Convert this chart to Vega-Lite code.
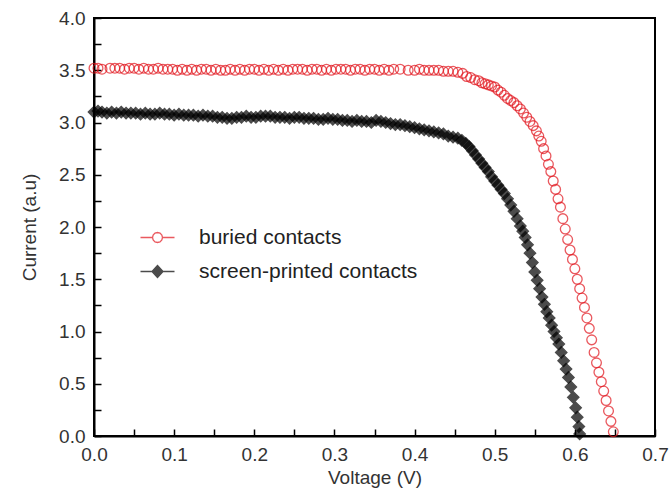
{
  "$schema": "https://vega.github.io/schema/vega-lite/v6.json",
  "width": 561,
  "height": 418,
  "autosize": "none",
  "padding": {"left": 94, "top": 18, "right": 17, "bottom": 56},
  "background": "white",
  "config": {
    "view": {"stroke": "black", "strokeWidth": 2},
    "font": "Liberation Sans"
  },
  "data": {"values": [
    {"s":"buried contacts","v":0.000,"i":3.52},{"s":"buried contacts","v":0.005,"i":3.52},{"s":"buried contacts","v":0.010,"i":3.51},{"s":"buried contacts","v":0.020,"i":3.52},{"s":"buried contacts","v":0.026,"i":3.52},{"s":"buried contacts","v":0.032,"i":3.52},{"s":"buried contacts","v":0.038,"i":3.51},{"s":"buried contacts","v":0.044,"i":3.52},{"s":"buried contacts","v":0.050,"i":3.52},{"s":"buried contacts","v":0.056,"i":3.51},{"s":"buried contacts","v":0.062,"i":3.52},{"s":"buried contacts","v":0.068,"i":3.51},{"s":"buried contacts","v":0.074,"i":3.51},{"s":"buried contacts","v":0.080,"i":3.52},{"s":"buried contacts","v":0.086,"i":3.51},{"s":"buried contacts","v":0.092,"i":3.51},{"s":"buried contacts","v":0.098,"i":3.51},{"s":"buried contacts","v":0.104,"i":3.50},{"s":"buried contacts","v":0.110,"i":3.51},{"s":"buried contacts","v":0.116,"i":3.50},{"s":"buried contacts","v":0.122,"i":3.51},{"s":"buried contacts","v":0.128,"i":3.50},{"s":"buried contacts","v":0.134,"i":3.51},{"s":"buried contacts","v":0.140,"i":3.51},{"s":"buried contacts","v":0.146,"i":3.50},{"s":"buried contacts","v":0.152,"i":3.51},{"s":"buried contacts","v":0.158,"i":3.50},{"s":"buried contacts","v":0.164,"i":3.50},{"s":"buried contacts","v":0.170,"i":3.51},{"s":"buried contacts","v":0.176,"i":3.50},{"s":"buried contacts","v":0.182,"i":3.51},{"s":"buried contacts","v":0.188,"i":3.50},{"s":"buried contacts","v":0.194,"i":3.51},{"s":"buried contacts","v":0.200,"i":3.51},{"s":"buried contacts","v":0.206,"i":3.50},{"s":"buried contacts","v":0.212,"i":3.51},{"s":"buried contacts","v":0.218,"i":3.50},{"s":"buried contacts","v":0.224,"i":3.51},{"s":"buried contacts","v":0.230,"i":3.50},{"s":"buried contacts","v":0.236,"i":3.51},{"s":"buried contacts","v":0.242,"i":3.50},{"s":"buried contacts","v":0.248,"i":3.51},{"s":"buried contacts","v":0.254,"i":3.51},{"s":"buried contacts","v":0.260,"i":3.51},{"s":"buried contacts","v":0.266,"i":3.50},{"s":"buried contacts","v":0.272,"i":3.51},{"s":"buried contacts","v":0.278,"i":3.51},{"s":"buried contacts","v":0.284,"i":3.50},{"s":"buried contacts","v":0.290,"i":3.51},{"s":"buried contacts","v":0.296,"i":3.50},{"s":"buried contacts","v":0.302,"i":3.51},{"s":"buried contacts","v":0.308,"i":3.51},{"s":"buried contacts","v":0.314,"i":3.51},{"s":"buried contacts","v":0.320,"i":3.50},{"s":"buried contacts","v":0.326,"i":3.51},{"s":"buried contacts","v":0.332,"i":3.51},{"s":"buried contacts","v":0.338,"i":3.50},{"s":"buried contacts","v":0.344,"i":3.51},{"s":"buried contacts","v":0.350,"i":3.51},{"s":"buried contacts","v":0.356,"i":3.50},{"s":"buried contacts","v":0.362,"i":3.51},{"s":"buried contacts","v":0.368,"i":3.50},{"s":"buried contacts","v":0.374,"i":3.51},{"s":"buried contacts","v":0.382,"i":3.51},{"s":"buried contacts","v":0.392,"i":3.50},{"s":"buried contacts","v":0.400,"i":3.50},{"s":"buried contacts","v":0.406,"i":3.51},{"s":"buried contacts","v":0.412,"i":3.50},{"s":"buried contacts","v":0.418,"i":3.50},{"s":"buried contacts","v":0.424,"i":3.50},{"s":"buried contacts","v":0.430,"i":3.50},{"s":"buried contacts","v":0.436,"i":3.49},{"s":"buried contacts","v":0.442,"i":3.49},{"s":"buried contacts","v":0.448,"i":3.49},{"s":"buried contacts","v":0.454,"i":3.48},{"s":"buried contacts","v":0.460,"i":3.47},{"s":"buried contacts","v":0.465,"i":3.44},{"s":"buried contacts","v":0.470,"i":3.43},{"s":"buried contacts","v":0.475,"i":3.41},{"s":"buried contacts","v":0.480,"i":3.40},{"s":"buried contacts","v":0.484,"i":3.38},{"s":"buried contacts","v":0.488,"i":3.37},{"s":"buried contacts","v":0.492,"i":3.36},{"s":"buried contacts","v":0.496,"i":3.35},{"s":"buried contacts","v":0.500,"i":3.34},{"s":"buried contacts","v":0.504,"i":3.31},{"s":"buried contacts","v":0.508,"i":3.29},{"s":"buried contacts","v":0.512,"i":3.26},{"s":"buried contacts","v":0.516,"i":3.23},{"s":"buried contacts","v":0.520,"i":3.21},{"s":"buried contacts","v":0.524,"i":3.19},{"s":"buried contacts","v":0.528,"i":3.16},{"s":"buried contacts","v":0.532,"i":3.13},{"s":"buried contacts","v":0.536,"i":3.09},{"s":"buried contacts","v":0.540,"i":3.05},{"s":"buried contacts","v":0.544,"i":3.01},{"s":"buried contacts","v":0.548,"i":2.97},{"s":"buried contacts","v":0.552,"i":2.92},{"s":"buried contacts","v":0.555,"i":2.87},{"s":"buried contacts","v":0.558,"i":2.82},{"s":"buried contacts","v":0.561,"i":2.75},{"s":"buried contacts","v":0.564,"i":2.68},{"s":"buried contacts","v":0.567,"i":2.60},{"s":"buried contacts","v":0.570,"i":2.53},{"s":"buried contacts","v":0.573,"i":2.44},{"s":"buried contacts","v":0.576,"i":2.36},{"s":"buried contacts","v":0.579,"i":2.27},{"s":"buried contacts","v":0.582,"i":2.19},{"s":"buried contacts","v":0.585,"i":2.08},{"s":"buried contacts","v":0.588,"i":1.98},{"s":"buried contacts","v":0.591,"i":1.88},{"s":"buried contacts","v":0.594,"i":1.78},{"s":"buried contacts","v":0.597,"i":1.69},{"s":"buried contacts","v":0.600,"i":1.60},{"s":"buried contacts","v":0.603,"i":1.50},{"s":"buried contacts","v":0.606,"i":1.41},{"s":"buried contacts","v":0.609,"i":1.32},{"s":"buried contacts","v":0.612,"i":1.23},{"s":"buried contacts","v":0.615,"i":1.13},{"s":"buried contacts","v":0.618,"i":1.03},{"s":"buried contacts","v":0.621,"i":0.92},{"s":"buried contacts","v":0.624,"i":0.80},{"s":"buried contacts","v":0.627,"i":0.70},{"s":"buried contacts","v":0.630,"i":0.61},{"s":"buried contacts","v":0.633,"i":0.52},{"s":"buried contacts","v":0.636,"i":0.43},{"s":"buried contacts","v":0.639,"i":0.34},{"s":"buried contacts","v":0.642,"i":0.24},{"s":"buried contacts","v":0.645,"i":0.14},{"s":"buried contacts","v":0.648,"i":0.04},
    {"s":"screen-printed contacts","v":0.000,"i":3.10},{"s":"screen-printed contacts","v":0.005,"i":3.11},{"s":"screen-printed contacts","v":0.010,"i":3.10},{"s":"screen-printed contacts","v":0.016,"i":3.09},{"s":"screen-printed contacts","v":0.022,"i":3.10},{"s":"screen-printed contacts","v":0.028,"i":3.09},{"s":"screen-printed contacts","v":0.034,"i":3.10},{"s":"screen-printed contacts","v":0.040,"i":3.09},{"s":"screen-printed contacts","v":0.046,"i":3.09},{"s":"screen-printed contacts","v":0.052,"i":3.09},{"s":"screen-printed contacts","v":0.058,"i":3.08},{"s":"screen-printed contacts","v":0.064,"i":3.09},{"s":"screen-printed contacts","v":0.070,"i":3.08},{"s":"screen-printed contacts","v":0.076,"i":3.08},{"s":"screen-printed contacts","v":0.082,"i":3.09},{"s":"screen-printed contacts","v":0.088,"i":3.08},{"s":"screen-printed contacts","v":0.094,"i":3.08},{"s":"screen-printed contacts","v":0.100,"i":3.07},{"s":"screen-printed contacts","v":0.106,"i":3.08},{"s":"screen-printed contacts","v":0.112,"i":3.07},{"s":"screen-printed contacts","v":0.118,"i":3.07},{"s":"screen-printed contacts","v":0.124,"i":3.07},{"s":"screen-printed contacts","v":0.130,"i":3.06},{"s":"screen-printed contacts","v":0.136,"i":3.07},{"s":"screen-printed contacts","v":0.142,"i":3.06},{"s":"screen-printed contacts","v":0.148,"i":3.06},{"s":"screen-printed contacts","v":0.154,"i":3.05},{"s":"screen-printed contacts","v":0.160,"i":3.05},{"s":"screen-printed contacts","v":0.166,"i":3.04},{"s":"screen-printed contacts","v":0.172,"i":3.04},{"s":"screen-printed contacts","v":0.178,"i":3.05},{"s":"screen-printed contacts","v":0.184,"i":3.05},{"s":"screen-printed contacts","v":0.190,"i":3.06},{"s":"screen-printed contacts","v":0.196,"i":3.05},{"s":"screen-printed contacts","v":0.202,"i":3.05},{"s":"screen-printed contacts","v":0.208,"i":3.06},{"s":"screen-printed contacts","v":0.214,"i":3.06},{"s":"screen-printed contacts","v":0.220,"i":3.06},{"s":"screen-printed contacts","v":0.226,"i":3.05},{"s":"screen-printed contacts","v":0.232,"i":3.05},{"s":"screen-printed contacts","v":0.238,"i":3.05},{"s":"screen-printed contacts","v":0.244,"i":3.04},{"s":"screen-printed contacts","v":0.250,"i":3.05},{"s":"screen-printed contacts","v":0.256,"i":3.05},{"s":"screen-printed contacts","v":0.262,"i":3.04},{"s":"screen-printed contacts","v":0.268,"i":3.04},{"s":"screen-printed contacts","v":0.274,"i":3.04},{"s":"screen-printed contacts","v":0.280,"i":3.03},{"s":"screen-printed contacts","v":0.286,"i":3.03},{"s":"screen-printed contacts","v":0.292,"i":3.04},{"s":"screen-printed contacts","v":0.298,"i":3.03},{"s":"screen-printed contacts","v":0.304,"i":3.03},{"s":"screen-printed contacts","v":0.310,"i":3.02},{"s":"screen-printed contacts","v":0.316,"i":3.02},{"s":"screen-printed contacts","v":0.322,"i":3.01},{"s":"screen-printed contacts","v":0.328,"i":3.02},{"s":"screen-printed contacts","v":0.334,"i":3.01},{"s":"screen-printed contacts","v":0.340,"i":3.01},{"s":"screen-printed contacts","v":0.346,"i":3.00},{"s":"screen-printed contacts","v":0.352,"i":3.02},{"s":"screen-printed contacts","v":0.358,"i":3.01},{"s":"screen-printed contacts","v":0.364,"i":3.00},{"s":"screen-printed contacts","v":0.370,"i":2.99},{"s":"screen-printed contacts","v":0.376,"i":2.98},{"s":"screen-printed contacts","v":0.382,"i":2.98},{"s":"screen-printed contacts","v":0.388,"i":2.97},{"s":"screen-printed contacts","v":0.394,"i":2.96},{"s":"screen-printed contacts","v":0.400,"i":2.95},{"s":"screen-printed contacts","v":0.406,"i":2.94},{"s":"screen-printed contacts","v":0.412,"i":2.93},{"s":"screen-printed contacts","v":0.418,"i":2.92},{"s":"screen-printed contacts","v":0.424,"i":2.91},{"s":"screen-printed contacts","v":0.430,"i":2.90},{"s":"screen-printed contacts","v":0.436,"i":2.89},{"s":"screen-printed contacts","v":0.442,"i":2.87},{"s":"screen-printed contacts","v":0.448,"i":2.86},{"s":"screen-printed contacts","v":0.454,"i":2.85},{"s":"screen-printed contacts","v":0.459,"i":2.83},{"s":"screen-printed contacts","v":0.464,"i":2.80},{"s":"screen-printed contacts","v":0.468,"i":2.77},{"s":"screen-printed contacts","v":0.472,"i":2.73},{"s":"screen-printed contacts","v":0.476,"i":2.69},{"s":"screen-printed contacts","v":0.480,"i":2.65},{"s":"screen-printed contacts","v":0.484,"i":2.61},{"s":"screen-printed contacts","v":0.488,"i":2.57},{"s":"screen-printed contacts","v":0.492,"i":2.53},{"s":"screen-printed contacts","v":0.496,"i":2.48},{"s":"screen-printed contacts","v":0.500,"i":2.44},{"s":"screen-printed contacts","v":0.504,"i":2.40},{"s":"screen-printed contacts","v":0.508,"i":2.36},{"s":"screen-printed contacts","v":0.512,"i":2.32},{"s":"screen-printed contacts","v":0.516,"i":2.27},{"s":"screen-printed contacts","v":0.520,"i":2.21},{"s":"screen-printed contacts","v":0.524,"i":2.15},{"s":"screen-printed contacts","v":0.528,"i":2.08},{"s":"screen-printed contacts","v":0.532,"i":2.01},{"s":"screen-printed contacts","v":0.535,"i":1.96},{"s":"screen-printed contacts","v":0.538,"i":1.90},{"s":"screen-printed contacts","v":0.541,"i":1.83},{"s":"screen-printed contacts","v":0.544,"i":1.75},{"s":"screen-printed contacts","v":0.547,"i":1.66},{"s":"screen-printed contacts","v":0.550,"i":1.57},{"s":"screen-printed contacts","v":0.553,"i":1.49},{"s":"screen-printed contacts","v":0.556,"i":1.41},{"s":"screen-printed contacts","v":0.559,"i":1.33},{"s":"screen-printed contacts","v":0.562,"i":1.26},{"s":"screen-printed contacts","v":0.565,"i":1.19},{"s":"screen-printed contacts","v":0.568,"i":1.13},{"s":"screen-printed contacts","v":0.571,"i":1.06},{"s":"screen-printed contacts","v":0.574,"i":1.00},{"s":"screen-printed contacts","v":0.577,"i":0.94},{"s":"screen-printed contacts","v":0.580,"i":0.88},{"s":"screen-printed contacts","v":0.583,"i":0.80},{"s":"screen-printed contacts","v":0.586,"i":0.72},{"s":"screen-printed contacts","v":0.589,"i":0.64},{"s":"screen-printed contacts","v":0.592,"i":0.56},{"s":"screen-printed contacts","v":0.595,"i":0.47},{"s":"screen-printed contacts","v":0.598,"i":0.37},{"s":"screen-printed contacts","v":0.601,"i":0.27},{"s":"screen-printed contacts","v":0.603,"i":0.18},{"s":"screen-printed contacts","v":0.605,"i":0.09},{"s":"screen-printed contacts","v":0.606,"i":0.02}
  ]},
  "encoding": {
    "x": {
      "field": "v", "type": "quantitative",
      "scale": {"domain": [0, 0.7], "nice": false, "zero": false},
      "axis": {
        "title": "Voltage (V)",
        "values": [0,0.05,0.1,0.15,0.2,0.25,0.3,0.35,0.4,0.45,0.5,0.55,0.6,0.65,0.7],
        "format": ".1f",
        "labelExpr": "round(datum.value*20)%2==1 ? '' : datum.label",
        "tickSize": -7,
        "tickColor": "black", "tickWidth": 1.5,
        "domainColor": "black", "domainWidth": 2,
        "grid": false, "labelFlush": false, "labelOverlap": false,
        "labelFont": "Liberation Sans", "labelFontSize": 19, "labelColor": "#333",
        "labelPadding": 16,
        "titleFont": "Liberation Sans", "titleFontSize": 19, "titleFontWeight": "normal", "titleColor": "#333",
        "titlePadding": 4
      }
    },
    "y": {
      "field": "i", "type": "quantitative",
      "scale": {"domain": [0, 4], "nice": false, "zero": false},
      "axis": {
        "title": "Current (a.u)",
        "values": [0,0.25,0.5,0.75,1,1.25,1.5,1.75,2,2.25,2.5,2.75,3,3.25,3.5,3.75,4],
        "format": ".1f",
        "labelExpr": "round(datum.value*4)%2==1 ? '' : datum.label",
        "tickSize": -7,
        "tickColor": "black", "tickWidth": 1.5,
        "domainColor": "black", "domainWidth": 2,
        "grid": false, "labelFlush": false, "labelOverlap": false,
        "labelFont": "Liberation Sans", "labelFontSize": 19, "labelColor": "#333",
        "labelPadding": 16,
        "titleFont": "Liberation Sans", "titleFontSize": 19, "titleFontWeight": "normal", "titleColor": "#333",
        "titlePadding": 19
      }
    },
    "stroke": {
      "field": "s", "type": "nominal",
      "scale": {"domain": ["buried contacts", "screen-printed contacts"], "range": ["#e2141c", "black"]},
      "legend": {
        "title": null, "orient": "none", "legendX": 53, "legendY": 209,
        "padding": 0, "symbolSize": 100, "symbolStrokeWidth": 1.3,
        "labelOffset": 31, "rowPadding": 12,
        "labelFont": "Liberation Sans", "labelFontSize": 21, "labelColor": "#222",
        "labelLimit": 400
      }
    },
    "fill": {
      "field": "s", "type": "nominal",
      "scale": {"domain": ["buried contacts", "screen-printed contacts"], "range": ["transparent", "black"]},
      "legend": {
        "title": null, "orient": "none", "legendX": 53, "legendY": 209,
        "padding": 0, "symbolSize": 100, "symbolStrokeWidth": 1.3,
        "labelOffset": 31, "rowPadding": 12,
        "labelFont": "Liberation Sans", "labelFontSize": 21, "labelColor": "#222",
        "labelLimit": 400
      }
    }
  },
  "layer": [
    {
      "transform": [{"filter": "datum.s == 'buried contacts'"}],
      "mark": {"type": "point", "filled": true, "shape": "circle", "size": 95, "strokeWidth": 1.3, "clip": false}
    },
    {
      "transform": [{"filter": "datum.s == 'screen-printed contacts'"}],
      "mark": {"type": "point", "filled": true, "shape": "diamond", "size": 130, "strokeWidth": 1.3, "clip": false}
    },
    {
      "transform": [{"filter": "datum.v < 0"}],
      "mark": {"type": "point", "filled": true, "strokeWidth": 1.3},
      "encoding": {
        "shape": {
          "field": "s", "type": "nominal",
          "scale": {"domain": ["buried contacts", "screen-printed contacts"], "range": [
            "M-3.4,0H-1M1,0L0.87,0.5L0.5,0.87L0,1L-0.5,0.87L-0.87,0.5L-1,0L-0.87,-0.5L-0.5,-0.87L0,-1L0.5,-0.87L0.87,-0.5ZM1,0H3.4",
            "M-3.4,0H3.4M0,-1.2L1.1,0L0,1.2L-1.1,0Z"
          ]},
          "legend": {
            "title": null, "orient": "none", "legendX": 53, "legendY": 209,
            "padding": 0, "symbolSize": 100, "symbolStrokeWidth": 1.3,
            "labelOffset": 31, "rowPadding": 12,
            "labelFont": "Liberation Sans", "labelFontSize": 21, "labelColor": "#222",
            "labelLimit": 400
          }
        }
      }
    }
  ]
}
